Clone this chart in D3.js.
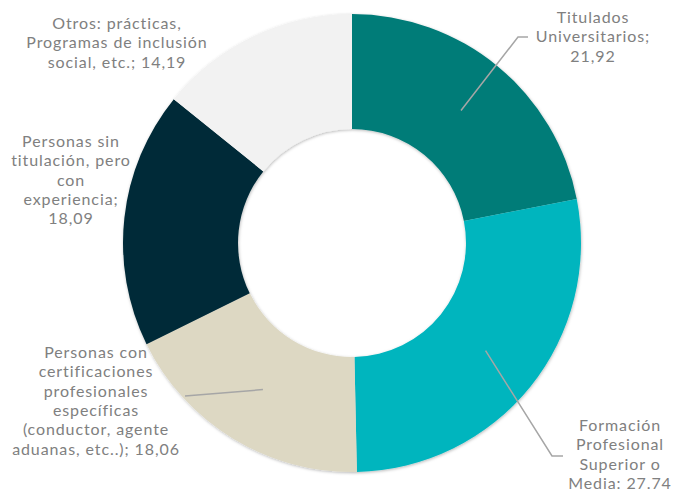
<!DOCTYPE html>
<html>
<head>
<meta charset="utf-8">
<script src="https://cdn.jsdelivr.net/npm/d3@7"></script>
<style>
  html, body { margin: 0; padding: 0; background: #ffffff; }
  svg { display: block; }
  .lbl { font-family: Lato, "Open Sans", sans-serif; font-size: 16px; letter-spacing: 0.9px; fill: #808080; }
</style>
</head>
<body>
<svg id="chart" width="674" height="493"></svg>
<script>
// Categories, clockwise from 12 o'clock
const categories = [
  "Titulados Universitarios",
  "Formación Profesional Superior o Media",
  "Personas con certificaciones profesionales específicas (conductor, agente aduanas, etc..)",
  "Personas sin titulación, pero con experiencia",
  "Otros: prácticas, Programas de inclusión social, etc."
];
const values = [21.92, 27.74, 18.06, 18.09, 14.19];
const valueLabels = ["21,92", "27.74", "18,06", "18,09", "14,19"];
const colors = ["#007b78", "#00b5be", "#ddd8c3", "#022b38", "#f2f2f2"];

// Wrapped label text for each slice
const labelLines = [
  ["Titulados", "Universitarios;", valueLabels[0]],
  ["Formación", "Profesional", "Superior o", "Media: " + valueLabels[1]],
  ["Personas con", "certificaciones", "profesionales", "específicas", "(conductor, agente", "aduanas, etc..); " + valueLabels[2]],
  ["Personas sin", "titulación, pero", "con", "experiencia;", valueLabels[3]],
  ["Otros: prácticas,", "Programas de inclusión", "social, etc.; " + valueLabels[4]]
];

// Layout
const cx = 352, cy = 243, rOuter = 229, rInner = 114;
const lineH = 19.3;
// label block: centre x, first baseline y; leader: elbow + end (null = no leader)
const labelLayout = [
  { x: 593, y: 23,  leader: [[518, 37], [528, 37]] },
  { x: 620, y: 431, leader: [[552, 456], [563, 456]] },
  { x: 96,  y: 358, leader: [[185, 396]] },
  { x: 71,  y: 147, leader: null },
  { x: 117, y: 29,  leader: null }
];

const svg = d3.select("#chart");

const defs = svg.append("defs");
const shadow = defs.append("filter").attr("id", "soft")
  .attr("x", "-10%").attr("y", "-10%").attr("width", "120%").attr("height", "120%");
shadow.append("feDropShadow")
  .attr("dx", 0.5).attr("dy", 1).attr("stdDeviation", 1.6)
  .attr("flood-color", "#000").attr("flood-opacity", 0.28);

const pie = d3.pie().sort(null).value(d => d);
const arcs = pie(values);
const arc = d3.arc().innerRadius(rInner).outerRadius(rOuter);

const g = svg.append("g").attr("transform", `translate(${cx},${cy})`);

g.append("g").attr("filter", "url(#soft)")
  .selectAll("path")
  .data(arcs)
  .join("path")
  .attr("d", arc)
  .attr("fill", (d, i) => colors[i]);

// leader lines from slice centroids
const line = d3.line();
arcs.forEach((d, i) => {
  const lay = labelLayout[i];
  if (!lay.leader) return;
  const c = arc.centroid(d);
  const pts = [[c[0] + cx, c[1] + cy], ...lay.leader];
  svg.append("path")
    .attr("d", line(pts))
    .attr("fill", "none")
    .attr("stroke", "#a6a6a6")
    .attr("stroke-width", 1.5);
});

// labels
labelLines.forEach((lines, i) => {
  const lay = labelLayout[i];
  const t = svg.append("text")
    .attr("class", "lbl")
    .attr("text-anchor", "middle")
    .attr("x", lay.x)
    .attr("y", lay.y);
  lines.forEach((s, k) => {
    t.append("tspan")
      .attr("x", lay.x)
      .attr("y", lay.y + k * lineH)
      .text(s);
  });
});
</script>
</body>
</html>
